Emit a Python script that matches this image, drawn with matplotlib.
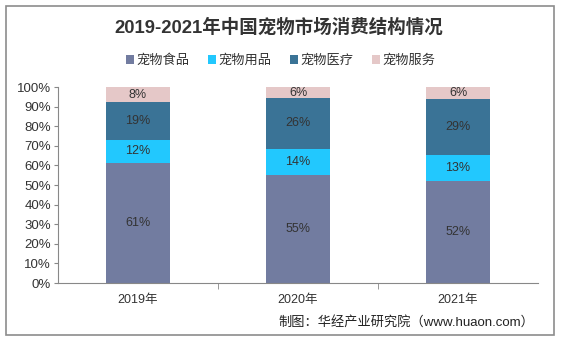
import matplotlib
matplotlib.use("Agg")
import matplotlib.pyplot as plt
from matplotlib.patches import Rectangle
import numpy as np

plt.rcParams['font.family'] = ['Liberation Sans', 'Noto Sans CJK SC', 'DejaVu Sans']

categories = ["2019年", "2020年", "2021年"]
series_names = ["宠物食品", "宠物用品", "宠物医疗", "宠物服务"]
food = [61.4, 55.0, 52.2]
supplies = [11.6, 13.6, 13.1]
medical = [19.3, 25.6, 28.6]
service = [7.7, 5.8, 6.1]
labels = [["61%", "55%", "52%"], ["12%", "14%", "13%"], ["19%", "26%", "29%"], ["8%", "6%", "6%"]]
colors = ["#727ca0", "#22c8fe", "#3a7396", "#e5c8c8"]
yticks = [0, 10, 20, 30, 40, 50, 60, 70, 80, 90, 100]

W, H = 561, 341
fig = plt.figure(figsize=(W/100, H/100), dpi=100)
fig.patches.append(Rectangle((6/W, 6/H), 548/W, 329/H, transform=fig.transFigure,
                             fill=False, edgecolor="#8c8c8c", linewidth=1.2))

ax = fig.add_axes([58/W, 1-283/H, 480/W, 196/H])
x = np.arange(len(categories))
bottom = np.zeros(len(categories))
for vals, name, col, labs in zip([food, supplies, medical, service], series_names, colors, labels):
    vals = np.array(vals)
    ax.bar(x, vals, 0.4, bottom=bottom, color=col, label=name)
    for xi, b, v, l in zip(x, bottom, vals, labs):
        ax.text(xi, b + v/2, l, ha="center", va="center", fontsize=9, color="#333333")
    bottom += vals

ax.set_xlim(-0.5, 2.5)
ax.set_ylim(0, 100)
ax.set_yticks(yticks)
ax.set_yticklabels([f"{t}%" for t in yticks], fontsize=9.5, color="#333333")
ax.set_xticks(x)
ax.set_xticklabels(categories, fontsize=9, color="#333333")
ax.set_xticks([0.5, 1.5], minor=True)
ax.tick_params(axis="x", which="major", length=0, pad=8)
ax.tick_params(axis="x", which="minor", length=4, color="#888888")
ax.tick_params(axis="y", length=3, color="#888888", pad=2)
for s in ["top", "right"]:
    ax.spines[s].set_visible(False)
ax.spines["left"].set_color("#888888")
ax.spines["bottom"].set_color("#888888")

fig.text(279/W, 1-28/H, "2019-2021年中国宠物市场消费结构情况", ha="center", va="center",
         fontsize=13.3, fontweight="bold", color="#333333")
fig.legend(loc="center", bbox_to_anchor=(281/W, 1-61/H), ncol=4, frameon=False,
           fontsize=9.5, handlelength=0.6, handleheight=0.6, handletextpad=0.2,
           columnspacing=1.4, labelcolor="#333333")

fig.text(278/W, 1-322/H, "制图：华经产业研究院（www.huaon.com）", ha="left", va="center",
         fontsize=9.5, color="#222222")

fig.savefig("out.png", dpi=100)
